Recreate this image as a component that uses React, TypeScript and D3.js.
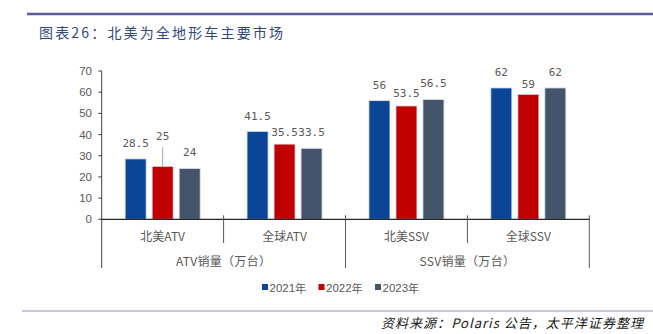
import React from "react";
import * as d3 from "d3";

const categories = ["北美ATV", "全球ATV", "北美SSV", "全球SSV"];
const groups = ["ATV销量（万台）", "SSV销量（万台）"];
const series = ["2021年", "2022年", "2023年"];
const values2021 = [28.5, 41.5, 56, 62];
const values2022 = [25, 35.5, 53.5, 59];
const values2023 = [24, 33.5, 56.5, 62];
const valueLabels2021 = ["28.5", "41.5", "56", "62"];
const valueLabels2022 = ["25", "35.5", "53.5", "59"];
const valueLabels2023 = ["24", "33.5", "56.5", "62"];
const yTicks = [0, 10, 20, 30, 40, 50, 60, 70];
const title = "图表26：北美为全地形车主要市场";
const source = "资料来源：Polaris 公告，太平洋证券整理";

// label gap above bar top (placement tweaks)
const labelGap = [
  [15, 15, 14.7, 15],
  [30, 11.6, 12.4, 10.3],
  [16, 15.8, 16, 15],
];

const colors = ["#0B4596", "#C00000", "#44546A"];

const W = 653;
const H = 334;

export default function App() {
  const seriesValues = [values2021, values2022, values2023];
  const seriesLabels = [valueLabels2021, valueLabels2022, valueLabels2023];

  const y = d3.scaleLinear().domain([0, 70]).range([219.3, 71]);
  const x0 = d3.scaleBand<string>().domain(categories).range([101.7, 589.3]).padding(0);
  const x1 = d3
    .scaleBand<string>()
    .domain(series)
    .range([0, x0.bandwidth()])
    .paddingInner(6 / 27)
    .paddingOuter(0.868);

  const axisY = y(0);
  const numFont = "'DejaVu Sans Mono', 'Liberation Mono', monospace";
  const cjkFont = "'Noto Sans CJK SC', 'Noto Sans', sans-serif";
  const sansFont = "'Liberation Sans', Arial, sans-serif";
  const textColor = "#595959";

  return (
    <svg
      width={W}
      height={H}
      style={{ position: "absolute", left: 0, top: 0, background: "#fff" }}
    >
      <rect x={0} y={0} width={W} height={H} fill="#fff" />
      {/* header */}
      <line x1={27} x2={653} y1={14} y2={14} stroke="#5B5E9A" strokeWidth={2.5} />
      <text
        x={39}
        y={38}
        fontFamily={cjkFont}
        fontSize={14}
        fill="#2F4A7C"
        textLength={244}
        lengthAdjust="spacing"
      >
        {title}
      </text>

      {/* y axis */}
      <line x1={101.7} x2={101.7} y1={y(70)} y2={268} stroke="#404040" strokeWidth={1} />
      {yTicks.map((t) => (
        <g key={t}>
          <line x1={98.3} x2={101.7} y1={y(t)} y2={y(t)} stroke="#404040" strokeWidth={1} />
          <text
            x={92}
            y={y(t)}
            textAnchor="end"
            dominantBaseline="central"
            fontFamily={sansFont}
            fontSize={11.5}
            fill={textColor}
          >
            {t}
          </text>
        </g>
      ))}

      {/* bars */}
      {series.map((s, si) =>
        categories.map((c, ci) => {
          const v = seriesValues[si][ci];
          const bx = (x0(c) as number) + (x1(s) as number);
          const bw = x1.bandwidth();
          const top = y(v);
          return (
            <rect
              key={s + c}
              x={bx}
              y={top}
              width={bw}
              height={axisY - top}
              fill={colors[si]}
              stroke="#DCE1EE"
              strokeWidth={0.8}
            />
          );
        })
      )}

      {/* value labels */}
      {series.map((s, si) =>
        categories.map((c, ci) => {
          const v = seriesValues[si][ci];
          const cx = (x0(c) as number) + (x1(s) as number) + x1.bandwidth() / 2;
          const top = y(v);
          const gap = labelGap[si][ci];
          const ly = top - gap;
          return (
            <g key={"l" + s + c}>
              {gap > 20 && (
                <line x1={cx} x2={cx} y1={ly + 11} y2={top} stroke="#A6A6A6" strokeWidth={1} />
              )}
              <text
                x={cx}
                y={ly}
                textAnchor="middle"
                dominantBaseline="central"
                fontFamily={numFont}
                fontSize={11}
                fill={textColor}
              >
                {seriesLabels[si][ci]}
              </text>
            </g>
          );
        })
      )}

      {/* x axis */}
      <line x1={101.7} x2={589.3} y1={axisY} y2={axisY} stroke="#262626" strokeWidth={1.3} />
      {categories.map((c, ci) => {
        const left = x0(c) as number;
        const right = left + x0.bandwidth();
        return (
          <g key={"c" + c}>
            {ci > 0 && ci !== 2 && (
              <line x1={left} x2={left} y1={axisY - 4} y2={243} stroke="#595959" strokeWidth={1} />
            )}
            <text
              x={(left + right) / 2}
              y={235}
              textAnchor="middle"
              dominantBaseline="central"
              fontFamily={cjkFont}
              fontSize={12}
              fill={textColor}
            >
              {c}
            </text>
          </g>
        );
      })}
      {/* outer group separators */}
      {[categories[2]].map((c) => (
        <line key={c} x1={x0(c) as number} x2={x0(c) as number} y1={axisY - 4} y2={268} stroke="#595959" strokeWidth={1} />
      ))}
      <line x1={589.3} x2={589.3} y1={axisY - 4} y2={268} stroke="#595959" strokeWidth={1} />
      {groups.map((g, gi) => {
        const left = x0(categories[gi * 2]) as number;
        const right = (x0(categories[gi * 2 + 1]) as number) + x0.bandwidth();
        return (
          <text
            key={g}
            x={(left + right) / 2}
            y={260}
            textAnchor="middle"
            dominantBaseline="central"
            fontFamily={cjkFont}
            fontSize={12}
            fill={textColor}
            letterSpacing={0.3}
          >
            {g}
          </text>
        );
      })}

      {/* legend */}
      {series.map((s, si) => {
        const lx = 262 + si * 56.5;
        return (
          <g key={"lg" + s}>
            <rect x={lx} y={284} width={6} height={6} fill={colors[si]} />
            <text
              x={lx + 7.5}
              y={287.5}
              dominantBaseline="central"
              fontFamily={sansFont}
              fontSize={11.5}
              fill={textColor}
            >
              {s.slice(0, 4)}
              <tspan fontFamily={cjkFont} fontSize={11}>{s.slice(4)}</tspan>
            </text>
          </g>
        );
      })}

      {/* footer */}
      <line x1={22} x2={653} y1={311} y2={311} stroke="#B7B7D6" strokeWidth={1.5} />
      <text
        x={381}
        y={328}
        fontFamily={cjkFont}
        fontSize={13}
        fontStyle="italic"
        fill="#1a1a1a"
        textLength={262}
        lengthAdjust="spacing"
      >
        {source}
      </text>
    </svg>
  );
}
